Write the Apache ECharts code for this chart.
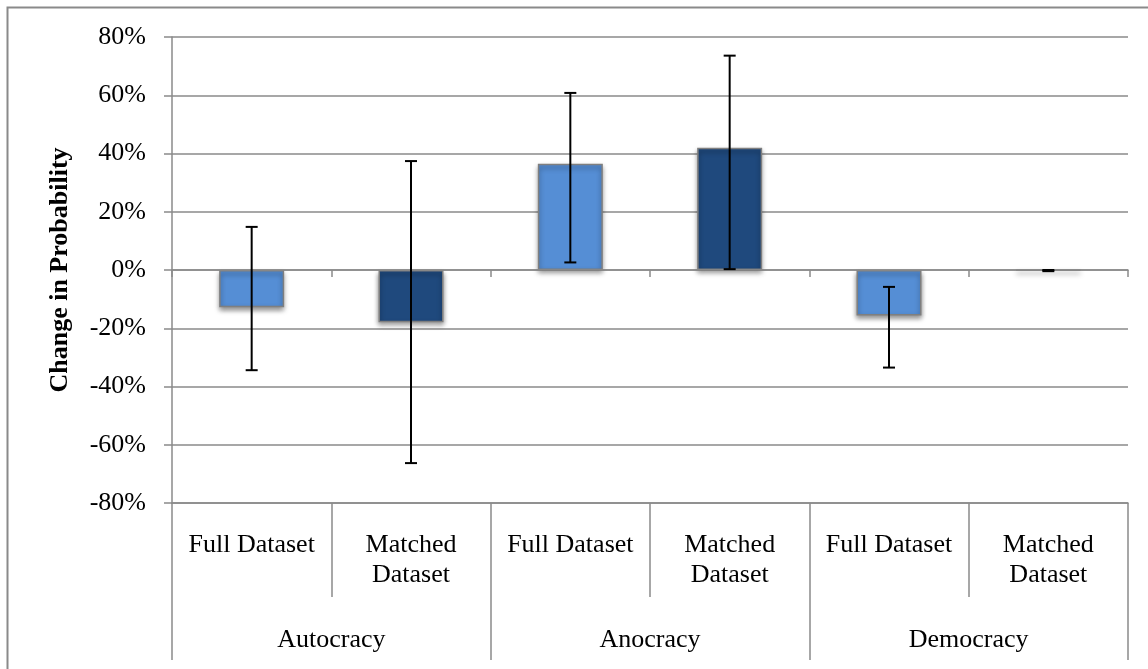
<!DOCTYPE html>
<html>
<head>
<meta charset="utf-8">
<script src="https://cdn.jsdelivr.net/npm/echarts@6/dist/echarts.min.js"></script>
<style>html,body{margin:0;padding:0;background:#fff}#c{width:1148px;height:669px}</style>
</head>
<body>
<div id="c"></div>
<script>
const categories = ['Full Dataset', 'Matched\nDataset', 'Full Dataset', 'Matched\nDataset', 'Full Dataset', 'Matched\nDataset'];
const groups = ['Autocracy', 'Anocracy', 'Democracy'];
const values = [-12.8, -17.9, 36.5, 42.0, -15.6, -0.2];
const errLow = [-34.4, -66.3, 2.6, 0.3, -33.5, -0.4];
const errHigh = [14.8, 37.4, 60.8, 73.6, -5.8, 0.0];
const yTicks = [-80, -60, -40, -20, 0, 20, 40, 60, 80];
const colorLight = '#558ED5';
const colorDark = '#1F497D';

const font = 'Liberation Serif, Times New Roman, serif';
const grey = '#8a8a8a';
const fs = 26;

const chart = echarts.init(document.getElementById('c'));
const barData = values.map((v, i) => ({
  value: v,
  itemStyle: { color: i % 2 === 0 ? colorLight : colorDark }
}));
const errData = values.map((v, i) => [i, errLow[i], errHigh[i]]);

chart.setOption({
  animation: false,
  graphic: [{
    type: 'rect', left: 5, top: 5,
    shape: { x: 0, y: 0, width: 1300, height: 800 },
    style: { fill: 'none', stroke: grey, lineWidth: 2 }, silent: true, z: -10
  }],
  grid: { left: 172, right: 20, top: 37, bottom: 166 },
  xAxis: [
    {
      type: 'category', data: categories,
      axisLine: { onZero: true, lineStyle: { color: grey, width: 1.5 } },
      axisTick: { show: true, interval: 0, length: 7, lineStyle: { color: grey, width: 1.5 } },
      axisLabel: { show: false }, z: 5
    },
    {
      type: 'category', data: categories, position: 'bottom',
      axisLine: { onZero: false, show: true, lineStyle: { color: grey, width: 1.5 } },
      axisTick: { show: true, interval: 0, length: 94, lineStyle: { color: grey, width: 1.5 } },
      axisLabel: { interval: 0, margin: 27, color: '#000', fontFamily: font, fontSize: fs, lineHeight: 30, verticalAlign: 'top' }
    },
    {
      type: 'category', data: groups, position: 'bottom',
      axisLine: { onZero: false, show: false },
      axisTick: { show: true, interval: 0, length: 157, lineStyle: { color: grey, width: 1.5 } },
      axisLabel: { interval: 0, margin: 122, color: '#000', fontFamily: font, fontSize: fs, lineHeight: 30, verticalAlign: 'top' }
    }
  ],
  yAxis: {
    type: 'value', min: -80, max: 80, interval: 20,
    name: 'Change in Probability', nameLocation: 'middle', nameGap: 99, nameRotate: 90,
    nameTextStyle: { color: '#000', fontFamily: font, fontSize: fs, fontWeight: 'bold' },
    axisLine: { show: true, lineStyle: { color: grey, width: 1.5 } },
    axisTick: { show: true, length: 8, inside: false, lineStyle: { color: grey, width: 1.5 } },
    axisLabel: {
      color: '#000', fontFamily: font, fontSize: fs, margin: 26,
      formatter: v => yTicks.includes(v) ? v + '%' : ''
    },
    splitLine: { show: true, lineStyle: { color: grey, width: 1.5 } }
  },
  series: [
    {
      type: 'bar', xAxisIndex: 0, data: barData, barWidth: 65,
      itemStyle: {
        borderColor: '#7f7f7f', borderWidth: 1.5,
        shadowColor: 'rgba(0,0,0,0.45)', shadowBlur: 5, shadowOffsetY: 3
      },
      z: 3
    },
    {
      type: 'custom', xAxisIndex: 0, data: errData, z: 10,
      renderItem: function (params, api) {
        const x = api.value(0);
        const lo = api.coord([x, api.value(1)]);
        const hi = api.coord([x, api.value(2)]);
        const cw = 6;
        const st = { stroke: '#000', lineWidth: 2 };
        return {
          type: 'group',
          children: [
            { type: 'line', shape: { x1: lo[0], y1: lo[1], x2: hi[0], y2: hi[1] }, style: st },
            { type: 'line', shape: { x1: lo[0] - cw, y1: lo[1], x2: lo[0] + cw, y2: lo[1] }, style: st },
            { type: 'line', shape: { x1: hi[0] - cw, y1: hi[1], x2: hi[0] + cw, y2: hi[1] }, style: st }
          ]
        };
      }
    }
  ]
});
</script>
</body>
</html>
